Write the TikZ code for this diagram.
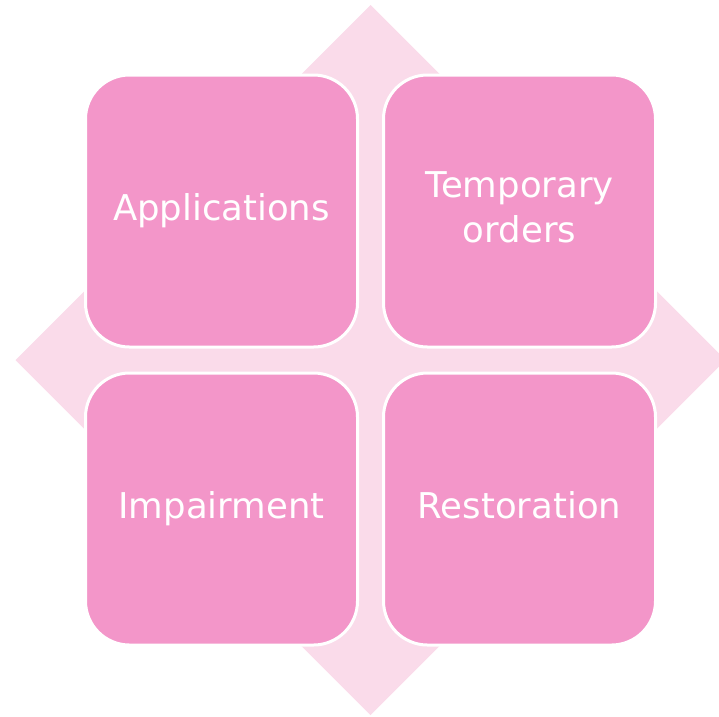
\documentclass[tikz,border=0pt]{standalone}
\usepackage{fontspec}
\setmainfont{DejaVu Sans}
\definecolor{pinkbox}{HTML}{F396C9}
\definecolor{pinkback}{HTML}{FADBEA}
\tikzset{quad/.style={draw=white, line width=3pt, fill=pinkbox, rounded corners=44pt,
    minimum width=272pt, minimum height=272pt, inner sep=0pt,
    text=white, align=center, font=\fontsize{35.5}{45}\selectfont}}
\begin{document}
\begin{tikzpicture}[x=1pt,y=-1pt]
  \pgfmathsetmacro{\cx}{370.5}
  \pgfmathsetmacro{\cy}{360}
  \pgfmathsetmacro{\demi}{355}
  \pgfmathsetmacro{\ecart}{149}
  \useasboundingbox (0,0) rectangle (719,716);
  \clip (0,0) rectangle (719,716);
  % diamond behind the four boxes
  \fill[pinkback] (\cx,\cy-\demi) -- (\cx+\demi,\cy) -- (\cx,\cy+\demi) -- (\cx-\demi,\cy) -- cycle;
  \node[quad] (appl) at (\cx-\ecart,\cy-\ecart) {Applications\strut};
  \node[quad] (temp) at (\cx+\ecart,\cy-\ecart) {Temporary\strut\\orders\strut};
  \node[quad] (impa) at (\cx-\ecart,\cy+\ecart) {Impairment\strut};
  \node[quad] (rest) at (\cx+\ecart,\cy+\ecart) {Restoration\strut};
\end{tikzpicture}
\end{document}
